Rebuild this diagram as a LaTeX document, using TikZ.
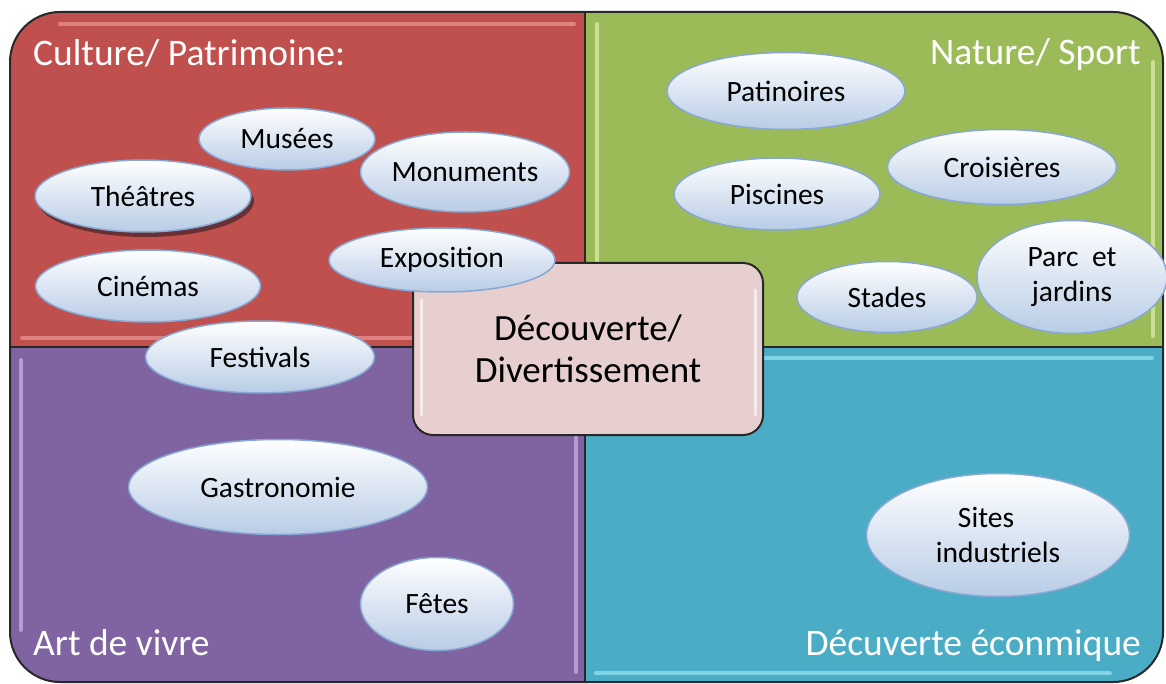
\documentclass[tikz,border=0pt]{standalone}
\usepackage{fontspec}
\setmainfont{Carlito}
\usetikzlibrary{shapes.geometric}
\definecolor{qred}{HTML}{C0504D}
\definecolor{qgreen}{HTML}{9BBB59}
\definecolor{qpurple}{HTML}{8064A2}
\definecolor{qblue}{HTML}{4BACC6}
\definecolor{boxpink}{RGB}{231,207,207}
\definecolor{bubedge}{RGB}{135,168,212}
\definecolor{bubbot}{RGB}{184,204,230}
\definecolor{edgecol}{RGB}{40,40,40}
\definecolor{hlred}{RGB}{236,150,150}
\definecolor{hlgreen}{RGB}{226,240,175}
\definecolor{hlpurple}{RGB}{200,180,228}
\definecolor{hlblue}{RGB}{150,230,245}
\definecolor{shadowcol}{RGB}{105,48,52}
\begin{document}
\begin{tikzpicture}[x=1pt,y=-1pt,
  bubble/.style={ellipse, draw=bubedge, line width=1.5pt, top color=white,
    bottom color=bubbot, inner sep=0pt, text=black, align=center,
    font=\fontsize{29.5}{35}\selectfont},
  titletext/.style={text=white, inner sep=0pt, font=\fontsize{37.5}{42}\selectfont},
  centerbox/.style={rectangle, rounded corners=20pt, fill=boxpink, draw=edgecol,
    line width=2pt, align=center, inner sep=0pt, text=black,
    font=\fontsize{37}{42}\selectfont},
  hl/.style={line width=4pt, line cap=round, opacity=0.7},
  shadowed/.style={preaction={fill=shadowcol, transform canvas={xshift=3pt,yshift=-5pt}}}
]
\useasboundingbox (0,0) rectangle (1166,684);
\fill[white] (0,0) rectangle (1166,684);

% quadrants
\begin{scope}
  \clip[rounded corners=50pt] (10,12) rectangle (1163,682);
  \fill[qred] (10,12) rectangle (585,347);
  \fill[qgreen] (585,12) rectangle (1163,347);
  \fill[qpurple] (10,347) rectangle (585,682);
  \fill[qblue] (585,347) rectangle (1163,682);
  % bevel highlights
  \draw[hl, hlred] (60,24) -- (574,24);
  \draw[hl, hlred] (22,338) -- (574,338);
  \draw[hl, hlgreen] (597,24) -- (597,336);
  \draw[hl, hlgreen] (1153,62) -- (1153,336);
  \draw[hl, hlpurple] (21,360) -- (21,630);
  \draw[hl, hlpurple] (576,360) -- (576,672);
  \draw[hl, hlblue] (596,358) -- (1152,358);
  \draw[hl, hlblue] (596,673) -- (1110,673);
\end{scope}
\draw[edgecol, line width=1.8pt] (585,12) -- (585,682);
\draw[edgecol, line width=1.8pt] (10,347) -- (1163,347);
\draw[edgecol, line width=2pt, rounded corners=50pt] (10,12) rectangle (1163,682);

% titles
\node[titletext, anchor=base west] (tcult) at (33,66) {Culture/ Patrimoine:};
\node[titletext, anchor=base east] (tnat) at (1141,65) {Nature/ Sport};
\node[titletext, anchor=base west] (tart) at (33,655) {Art de vivre};
\node[titletext, anchor=base east] (teco) at (1141,655) {Décuverte éconmique};

% culture / patrimoine
\node[bubble, shadowed, minimum width=216pt, minimum height=72pt] (theatres) at (143,196) {Théâtres};
\node[bubble, minimum width=176pt, minimum height=62pt] (musees) at (287,139) {Musées};
\node[bubble, minimum width=209pt, minimum height=80pt] (monuments) at (465,172) {Monuments};
\node[bubble, minimum width=225pt, minimum height=72pt] (cinemas) at (148,286) {Cinémas};

% nature / sport
\node[bubble, minimum width=238pt, minimum height=77pt] (patinoires) at (786,91) {Patinoires};
\node[bubble, minimum width=206pt, minimum height=72pt] (piscines) at (777,194) {Piscines};
\node[bubble, minimum width=229pt, minimum height=75pt] (croisieres) at (1002,167) {Croisières};
\node[bubble, minimum width=180pt, minimum height=71pt] (stades) at (887,297) {Stades};
\node[bubble, minimum width=190pt, minimum height=113pt] (parc) at (1072,277) {Parc\ \ et\\jardins};

% center
\node[centerbox, minimum width=350pt, minimum height=172pt] (center) at (588,349) {Découverte/\\Divertissement};
\draw[white, line width=3pt, line cap=round, opacity=0.6] (421,300) -- (421,415);
\draw[white, line width=3pt, line cap=round, opacity=0.6] (755,290) -- (755,415);

\node[bubble, minimum width=226pt, minimum height=64pt] (exposition) at (442,260) {Exposition};
\node[bubble, minimum width=229pt, minimum height=72pt] (festivals) at (260,357) {Festivals};

% art de vivre
\node[bubble, minimum width=299pt, minimum height=95pt] (gastro) at (278,487) {Gastronomie};
\node[bubble, minimum width=153pt, minimum height=93pt] (fetes) at (437,604) {Fêtes};

% decouverte economique
\node[bubble, minimum width=263pt, minimum height=123pt] (sites) at (998,535) {Sites\hspace*{24pt}\\industriels};
\end{tikzpicture}
\end{document}
